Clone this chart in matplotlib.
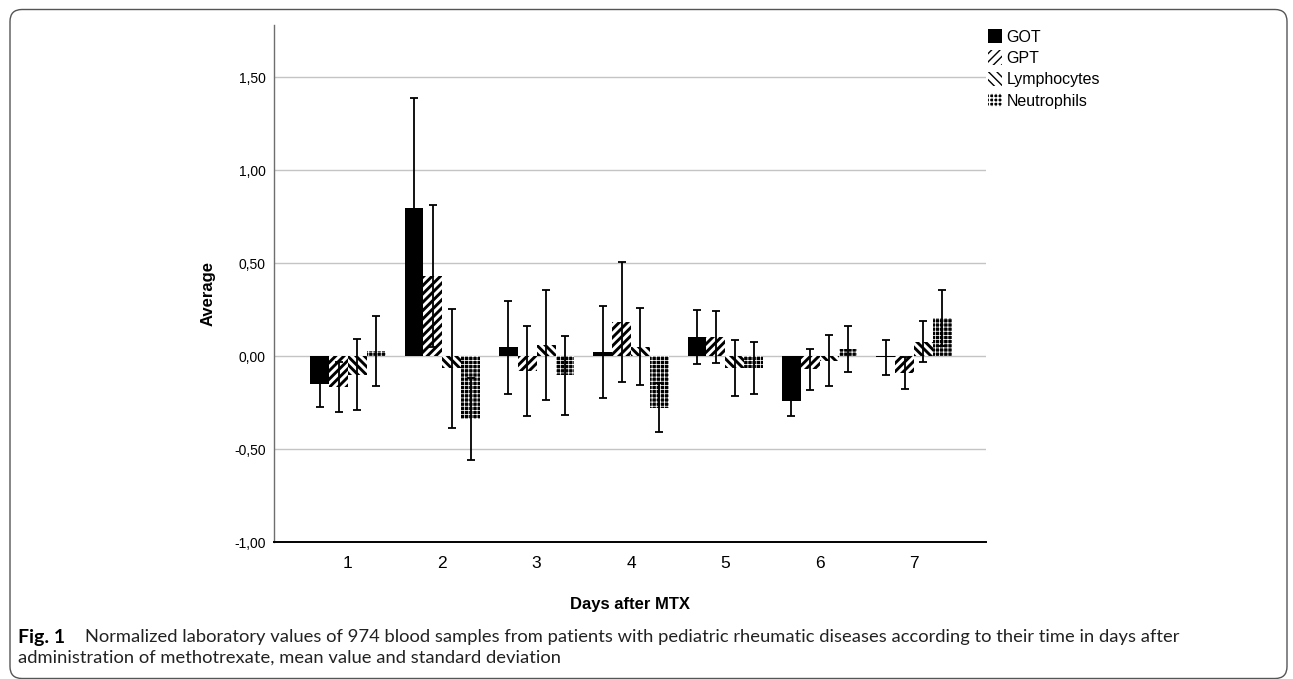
import matplotlib
matplotlib.use("Agg")
import matplotlib.pyplot as plt
from matplotlib.patches import FancyBboxPatch, Patch
from matplotlib.transforms import IdentityTransform
import numpy as np

# Datos (media y desviacion estandar normalizadas)
days = [1, 2, 3, 4, 5, 6, 7]
series = ["GOT", "GPT", "Lymphocytes", "Neutrophils"]

got_mean = [-0.153, 0.797, 0.048, 0.023, 0.100, -0.240, -0.007]
got_sd = [0.120, 0.590, 0.250, 0.248, 0.145, 0.085, 0.093]
gpt_mean = [-0.165, 0.430, -0.082, 0.183, 0.100, -0.070, -0.090]
gpt_sd = [0.135, 0.380, 0.242, 0.325, 0.140, 0.110, 0.087]
lym_mean = [-0.100, -0.067, 0.060, 0.050, -0.065, -0.025, 0.078]
lym_sd = [0.192, 0.318, 0.295, 0.206, 0.149, 0.137, 0.112]
neu_mean = [0.027, -0.340, -0.104, -0.277, -0.063, 0.038, 0.203]
neu_sd = [0.190, 0.220, 0.212, 0.131, 0.140, 0.122, 0.150]

yticks = [-1.0, -0.5, 0.0, 0.5, 1.0, 1.5]
ytick_labels = ["-1,00", "-0,50", "0,00", "0,50", "1,00", "1,50"]

means = [got_mean, gpt_mean, lym_mean, neu_mean]
sds = [got_sd, gpt_sd, lym_sd, neu_sd]

# estilo de cada serie: (color, color del patron, patron, grosor del patron)
styles = [
    ("black", "black", None, 1.0),
    ("white", "black", "////", 2.1),
    ("white", "black", "\\\\\\\\", 2.1),
    ("black", "white", "++++", 0.55),
]

W, H = 1293, 679
fig = plt.figure(figsize=(W / 100, H / 100), dpi=100)
plt.rcParams["font.family"] = ["Liberation Sans", "DejaVu Sans"]

ax = fig.add_axes([274 / W, 1 - 542 / H, (986 - 274) / W, (542 - 25) / H])

x = np.array(days, dtype=float)
width = 0.2
offsets = [-1.5, -0.5, 0.5, 1.5]

handles = []
for i, name in enumerate(series):
    face, hcol, hatch, hlw = styles[i]
    with plt.rc_context({"hatch.linewidth": hlw}):
        bars = ax.bar(x + offsets[i] * width, means[i], width,
                      color=face, edgecolor=hcol, linewidth=0,
                      hatch=hatch, zorder=2)
        for b in bars:
            if hasattr(b, "set_hatch_linewidth"):
                b.set_hatch_linewidth(hlw)
        h = Patch(facecolor=face, edgecolor=hcol, linewidth=0, hatch=hatch, label=name)
        if hasattr(h, "set_hatch_linewidth"):
            h.set_hatch_linewidth(hlw)
    handles.append(h)
    ax.errorbar(x + offsets[i] * width, means[i], yerr=sds[i], fmt="none",
                ecolor="black", elinewidth=1.3, capsize=2.8, capthick=1.3, zorder=3)

ax.set_xlim(0.216, 7.763)
ax.set_ylim(-1.0, 1.78)
ax.set_yticks(yticks)
ax.set_yticklabels(ytick_labels, fontsize=10)
ax.set_xticks(days)
ax.set_xticklabels([str(d) for d in days], fontsize=12.5)
ax.tick_params(axis="both", length=0, pad=6)
ax.tick_params(axis="x", pad=10)
ax.yaxis.grid(True, color="#c4c4c4", linewidth=1.0, zorder=0)
ax.set_axisbelow(True)
for s in ["top", "right"]:
    ax.spines[s].set_visible(False)
ax.spines["left"].set_color("#6e6e6e")
ax.spines["left"].set_linewidth(1.0)
ax.spines["bottom"].set_color("black")
ax.spines["bottom"].set_linewidth(1.4)

fig.text(630 / W, 1 - 605 / H, "Days after MTX", ha="center", va="center",
         fontsize=12, fontweight="bold")
fig.text(208 / W, 1 - 293 / H, "Average", ha="center", va="center",
         rotation=90, fontsize=12, fontweight="bold")

fig.legend(handles=handles, loc="upper left", bbox_to_anchor=(988 / W, 1 - 29 / H),
           frameon=False, fontsize=11.5, handlelength=0.9, handleheight=1.0,
           handletextpad=0.25, labelspacing=0.36, borderpad=0, borderaxespad=0)

# pie de figura
cap_font = ["Lato", "DejaVu Sans"]
fig.text(18 / W, 1 - 637 / H, "Fig. 1", ha="left", va="center", fontsize=14,
         fontweight="bold", family=cap_font)
fig.text(85 / W, 1 - 637 / H,
         "Normalized laboratory values of 974 blood samples from patients with pediatric "
         "rheumatic diseases according to their time in days after",
         ha="left", va="center", fontsize=13.2, family=cap_font, color="#222222")
fig.text(18 / W, 1 - 658 / H,
         "administration of methotrexate, mean value and standard deviation",
         ha="left", va="center", fontsize=13.2, family=cap_font, color="#222222")

# marco redondeado
frame = FancyBboxPatch((10, 0.5), 1277, 669, boxstyle="round,pad=0,rounding_size=12",
                       transform=IdentityTransform(), facecolor="none",
                       edgecolor="#555555", linewidth=1.0)
fig.patches.append(frame)

fig.savefig("out.png", dpi=100)
